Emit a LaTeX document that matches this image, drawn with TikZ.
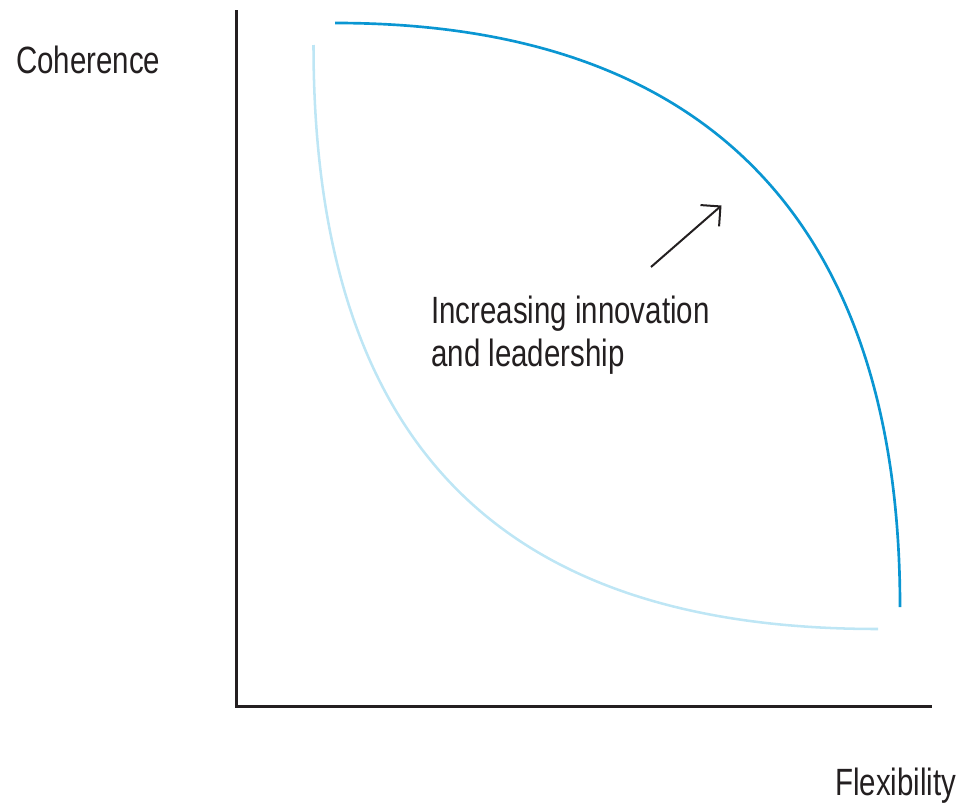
\documentclass[tikz,border=0pt]{standalone}
\usepackage{fontspec}
\setmainfont{Liberation Sans}[FakeStretch=0.775]
\usetikzlibrary{arrows.meta}
\definecolor{txt}{HTML}{231F20}
\definecolor{darkblue}{HTML}{0A96D2}
\definecolor{lightblue}{HTML}{BEE6F5}
\tikzset{
  axis/.style={draw=txt, line width=2.25pt},
  outercurve/.style={draw=darkblue, line width=2pt},
  innercurve/.style={draw=lightblue, line width=1.9pt},
  lbl/.style={text=txt, inner sep=0pt, font=\fontsize{28.5}{32.25}\selectfont},
  pointer/.style={draw=txt, line width=1.5pt, line join=miter,
    -{Straight Barb[length=10.6pt, width=21.2pt, line join=miter]}}
}
\begin{document}
\begin{tikzpicture}[x=0.75pt, y=-0.75pt]
\useasboundingbox (0,0) rectangle (960,803);
% axes
\coordinate (top) at (236.5,10);
\coordinate (origin) at (236.5,706);
\coordinate (right) at (932,706);
\draw[axis] (top) -- (origin) -- (right);
% curves
\draw[outercurve] (335,23) .. controls (742,23) and (900,260) .. (900,607);
\draw[innercurve] (313.5,45) .. controls (313.5,480) and (537,629) .. (878,629);
% arrow
\coordinate (atail) at (651,267);
\coordinate (ahead) at (721.5,205.5);
\draw[pointer] (atail) -- (ahead);
% labels
\node[lbl, anchor=base west] (ylabel) at (16,73) {Coherence};
\node[lbl, anchor=base west] (xlabel) at (835,795) {Flexibility};
\node[lbl, anchor=base west, align=left] (note) at (431,366) {Increasing innovation\\and leadership};
\end{tikzpicture}
\end{document}
